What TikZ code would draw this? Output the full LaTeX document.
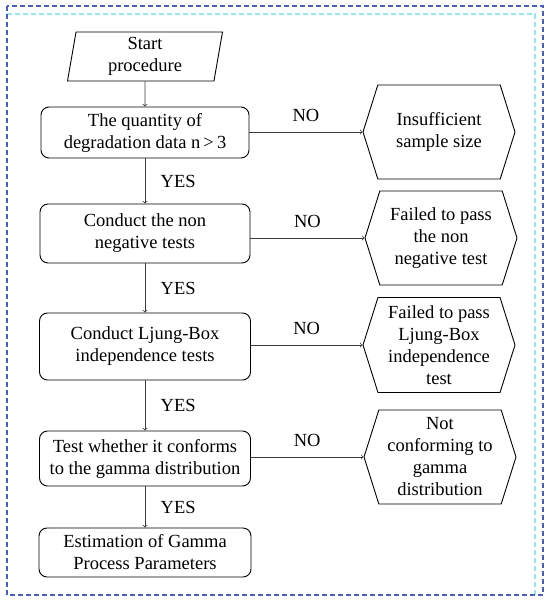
\documentclass[tikz,border=0pt]{standalone}
\usepackage{fontspec}
\setmainfont{Liberation Serif}
\usetikzlibrary{shapes.geometric, shapes.symbols}

\definecolor{frameblue}{RGB}{70,95,190}
\definecolor{framecyan}{RGB}{150,230,240}
\definecolor{arrowgray}{RGB}{60,60,60}

\tikzset{
  proc/.style={draw, rounded corners=8pt, line width=0.9pt, align=center, inner sep=1pt},
  startio/.style={trapezium, trapezium left angle=78, trapezium right angle=102, trapezium stretches body,
    draw, line width=0.9pt, minimum width=155pt, minimum height=49pt, align=center, inner sep=1pt},
  fail/.style={signal, signal to=east and west, signal pointer angle=145, draw, line width=0.9pt,
    minimum width=152pt, minimum height=94pt, align=center, inner sep=1pt},
  flow/.style={->, draw=arrowgray, line width=0.8pt},
  yeslbl/.style={right, xshift=12pt},
  nolbl/.style={above, yshift=7pt}
}

\begin{document}
\begin{tikzpicture}[x=1pt, y=-1pt, font=\fontsize{18.5}{22}\selectfont]
  \useasboundingbox (0,0) rectangle (550,604);
  % dashed frame
  \draw[framecyan, dash pattern=on 5pt off 3pt, line width=1.1pt] (7,14) -- (535,14) -- (535,595);
  \draw[frameblue, dash pattern=on 5pt off 3pt, line width=1.5pt] (7,6) rectangle (543,595);

  % main column
  \node[startio] (start) at (145,56.5) {Start\\procedure};
  \node[proc, minimum width=208pt, minimum height=51pt] (qty) at (145,132.5) {The quantity of\\degradation data n\,>\,3};
  \node[proc, minimum width=210pt, minimum height=59pt] (nonneg) at (145,233.5) {Conduct the non\\negative tests};
  \node[proc, minimum width=211pt, minimum height=67pt] (ljung) at (145,346.5) {Conduct Ljung-Box\\independence tests};
  \node[proc, minimum width=211pt, minimum height=55pt] (gamma) at (145,458.5) {Test whether it conforms\\to the gamma distribution};
  \node[proc, minimum width=212pt, minimum height=49pt] (estim) at (145,552.5) {Estimation of Gamma\\Process Parameters};

  % failure ends
  \node[fail] (small) at (439,132) {Insufficient\\sample size};
  \node[fail] (nonnegfail) at (441,238) {Failed to pass\\the non\\negative test};
  \node[fail, minimum height=95pt] (ljungfail) at (439,345) {Failed to pass\\Ljung-Box\\independence\\test};
  \node[fail] (gammafail) at (440,457) {Not\\conforming to\\gamma\\distribution};

  % connectors
  \draw[flow] (start) -- (qty);
  \draw[flow] (qty) -- node[yeslbl] {YES} (nonneg);
  \draw[flow] (nonneg) -- node[yeslbl] {YES} (ljung);
  \draw[flow] (ljung) -- node[yeslbl] {YES} (gamma);
  \draw[flow] (gamma) -- node[yeslbl] {YES} (estim);

  \draw[flow] (qty.east |- small.west) -- node[nolbl] {NO} (small.west);
  \draw[flow] (nonneg.east |- nonnegfail.west) -- node[nolbl] {NO} (nonnegfail.west);
  \draw[flow] (ljung.east |- ljungfail.west) -- node[nolbl] {NO} (ljungfail.west);
  \draw[flow] (gamma.east |- gammafail.west) -- node[nolbl] {NO} (gammafail.west);
\end{tikzpicture}
\end{document}
